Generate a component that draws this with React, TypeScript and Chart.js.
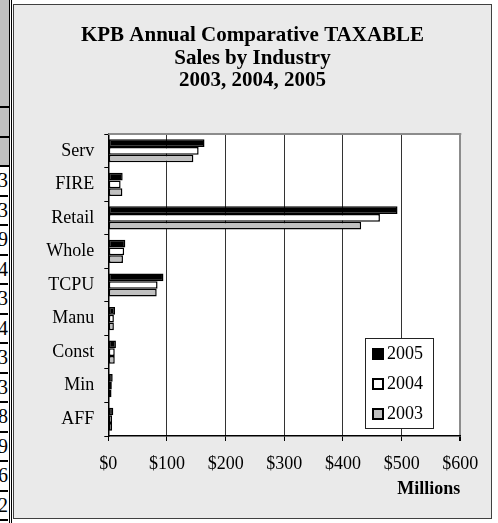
import React, { useEffect, useRef } from 'react';
import { Chart, registerables } from 'chart.js';

Chart.register(...registerables);

// ---- data ----
const categories = ['Serv', 'FIRE', 'Retail', 'Whole', 'TCPU', 'Manu', 'Const', 'Min', 'AFF'];
const seriesLabels = ['2005', '2004', '2003'];
const values2005 = [164, 24.5, 493, 29, 94, 11.5, 13, 7.5, 8.5];
const values2004 = [154, 21, 463, 27, 84, 9.5, 11, 6, 6.5];
const values2003 = [145, 24, 431, 25, 82.5, 9.5, 11, 5.5, 6.5];
const xTickMin = 0;
const xTickMax = 600;
const xTickStep = 100;
const titleLines = ['KPB Annual Comparative TAXABLE', 'Sales by Industry', '2003, 2004, 2005'];
const xAxisTitle = 'Millions';
const tableDigits = ['3', '3', '9', '4', '3', '4', '3', '3', '8', '9', '6', '2'];

const SERIF = '"Liberation Serif", "Times New Roman", Times, serif';
const seriesColors = ['#000000', '#ffffff', '#c0c0c0'];

const plotBgPlugin = {
  id: 'plotBg',
  beforeDraw(chart: any) {
    const { ctx, chartArea: ca } = chart;
    ctx.save();
    ctx.fillStyle = '#ffffff';
    ctx.fillRect(ca.left, ca.top, ca.right - ca.left, ca.bottom - ca.top);
    ctx.restore();
  },
  beforeDatasetsDraw(chart: any) {
    const { ctx, chartArea: ca } = chart;
    ctx.save();
    ctx.strokeStyle = '#8c8c8c';
    ctx.lineWidth = 2;
    ctx.beginPath();
    ctx.moveTo(ca.left, ca.top);
    ctx.lineTo(ca.right + 1, ca.top);
    ctx.stroke();
    ctx.restore();
  },
};

const legendPlugin = {
  id: 'boxLegend',
  afterDraw(chart: any) {
    const { ctx, chartArea: ca } = chart;
    const bw = 68;
    const bh = 90;
    const bx = Math.round(ca.right - 27.3 - bw);
    const by = Math.round(ca.bottom - 8 - bh);
    ctx.save();
    ctx.fillStyle = '#ffffff';
    ctx.fillRect(bx, by, bw, bh);
    ctx.strokeStyle = '#222';
    ctx.lineWidth = 1;
    ctx.strokeRect(bx + 0.5, by + 0.5, bw, bh);
    chart.data.datasets.forEach((ds: any, i: number) => {
      const cy = by + 16 + 30 * i;
      const mx = bx + 7;
      const my = Math.round(cy - 6);
      ctx.fillStyle = '#000';
      ctx.fillRect(mx, my, 12, 12);
      ctx.fillStyle = ds.backgroundColor;
      ctx.fillRect(mx + 2, my + 2, 8, 8);
      ctx.fillStyle = '#000';
      ctx.font = `18px ${SERIF}`;
      ctx.textBaseline = 'middle';
      ctx.textAlign = 'left';
      ctx.fillText(ds.label, bx + 22, cy);
    });
    ctx.restore();
  },
};

function ChartCanvas() {
  const ref = useRef<HTMLCanvasElement | null>(null);
  useEffect(() => {
    if (!ref.current) return;
    const seriesData = [values2005, values2004, values2003];
    const chart = new Chart(ref.current, {
      type: 'bar',
      data: {
        labels: categories,
        datasets: seriesLabels.map((label, i) => ({
          label,
          data: seriesData[i],
          backgroundColor: seriesColors[i],
          borderColor: '#000000',
          borderWidth: 1.5,
          borderSkipped: false,
          categoryPercentage: 0.69,
          barPercentage: 1,
          yAxisID: 'y',
        })),
      },
      options: {
        indexAxis: 'y',
        animation: false,
        responsive: false,
        maintainAspectRatio: false,
        devicePixelRatio: 1,
        layout: { padding: 0 },
        plugins: {
          legend: { display: false },
          tooltip: { enabled: false },
          title: {
            display: true,
            text: titleLines,
            color: '#000',
            font: { family: SERIF, size: 21, weight: 'bold', lineHeight: 22.5 / 21 },
            padding: { top: 19.8, bottom: 41.7 },
          },
        },
        scales: {
          x: {
            type: 'linear',
            position: 'bottom',
            min: xTickMin,
            max: xTickMax,
            ticks: {
              stepSize: xTickStep,
              color: '#000',
              padding: 12,
              maxRotation: 0,
              font: { family: SERIF, size: 18, lineHeight: 1.2 },
              callback: (v: any) => '$' + v,
            },
            grid: {
              color: (c: any) => (c.index === 6 ? '#8c8c8c' : '#333333'),
              lineWidth: (c: any) => (c.index === 6 ? 2 : 1),
              tickColor: '#000',
              tickLength: 5,
              drawTicks: true,
            },
            border: { display: true, color: '#000', width: 1.5 },
            title: {
              display: true,
              text: xAxisTitle,
              align: 'end',
              color: '#000',
              font: { family: SERIF, size: 18, weight: 'bold', lineHeight: 1.2 },
              padding: { top: 0, bottom: 17.7 },
            },
            afterFit: (s: any) => {
              s.height = 82;
            },
          },
          y: {
            type: 'category',
            position: 'left',
            offset: true,
            ticks: { color: '#000', padding: 10, font: { family: SERIF, size: 18 } },
            grid: {
              display: true,
              drawOnChartArea: false,
              drawTicks: true,
              tickLength: 4,
              offset: true,
              color: '#000',
            },
            border: { display: true, color: '#000', width: 1.5 },
            afterFit: (s: any) => {
              s.width = 94.3;
            },
          },
          yR: {
            type: 'linear',
            position: 'right',
            display: true,
            min: 0,
            max: 1,
            ticks: { display: false },
            grid: { display: false },
            border: { display: false },
            afterFit: (s: any) => {
              s.width = 30.7;
            },
          },
        },
      } as any,
      plugins: [plotBgPlugin, legendPlugin],
    });
    return () => chart.destroy();
  }, []);
  return (
    <canvas
      ref={ref}
      width={477}
      height={513}
      style={{ display: 'block', width: 477, height: 513 }}
    />
  );
}

export default function App() {
  const rowTop = 167;
  const rowH = 29.5;
  return (
    <div
      style={{
        position: 'fixed',
        left: 0,
        top: 0,
        width: 498,
        height: 523,
        background: '#ffffff',
        overflow: 'hidden',
        fontFamily: SERIF,
      }}
    >
      {/* cropped table fragment on the left */}
      <div style={{ position: 'absolute', left: 0, top: 0, width: 9, height: 523, overflow: 'hidden' }}>
        <div style={{ position: 'absolute', left: 0, top: 0, width: 9, height: 106, background: '#c0c0c0' }} />
        <div style={{ position: 'absolute', left: 0, top: 106, width: 9, height: 2, background: '#000' }} />
        <div style={{ position: 'absolute', left: 0, top: 108, width: 9, height: 28, background: '#c0c0c0' }} />
        <div style={{ position: 'absolute', left: 0, top: 136, width: 9, height: 2, background: '#000' }} />
        <div style={{ position: 'absolute', left: 0, top: 138, width: 9, height: 27, background: '#c0c0c0' }} />
        <div style={{ position: 'absolute', left: 0, top: 165, width: 9, height: 2, background: '#000' }} />
        {tableDigits.map((d, i) => (
          <div
            key={i}
            style={{
              position: 'absolute',
              left: -20,
              top: rowTop + i * rowH,
              width: 28,
              height: rowH - 2,
              lineHeight: `${rowH - 2}px`,
              textAlign: 'right',
              fontSize: 20,
              color: '#000',
              background: '#fff',
              borderBottom: '2px solid #000',
            }}
          >
            {d}
          </div>
        ))}
      </div>
      <div style={{ position: 'absolute', left: 9, top: 0, width: 1, height: 523, background: '#000' }} />
      <div style={{ position: 'absolute', left: 11, top: 0, width: 1, height: 523, background: '#000' }} />
      {/* chart frame */}
      <div
        style={{
          position: 'absolute',
          left: 13,
          top: 4,
          width: 477,
          height: 513,
          border: '1px solid #404040',
          background: '#eaeaea',
        }}
      >
        <ChartCanvas />
      </div>
    </div>
  );
}
